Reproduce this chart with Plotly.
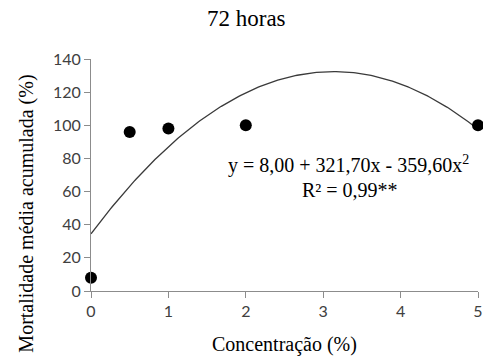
import numpy as np
import plotly.graph_objects as go

# Data
concentracao = [0, 0.5, 1, 2, 5]
mortalidade = [8, 96, 98, 100, 100]
x_ticks = [0, 1, 2, 3, 4, 5]
y_ticks = [0, 20, 40, 60, 80, 100, 120, 140]
titulo = "72 horas"
eq_text = "y = 8,00 + 321,70x - 359,60x<sup>2</sup>"
r2_text = "R² = 0,99**"

# quadratic trendline fitted to the observed points
coef = np.polyfit(concentracao, mortalidade, 2)
xs = np.linspace(0, 5, 200)
ys = np.polyval(coef, xs)

serif = "Liberation Serif, Times New Roman, serif"
sans = "Lato, Liberation Sans, sans-serif"

fig = go.Figure()
fig.add_trace(go.Scatter(x=xs, y=ys, mode="lines",
                         line=dict(color="#3a3a3a", width=1.3),
                         hoverinfo="skip", showlegend=False, cliponaxis=False))
fig.add_trace(go.Scatter(x=concentracao, y=mortalidade, mode="markers",
                         marker=dict(color="black", size=12),
                         showlegend=False, cliponaxis=False))

axis_common = dict(showgrid=False, zeroline=False, showline=True,
                   linecolor="#8c8c8c", linewidth=1, ticks="outside",
                   tickcolor="#8c8c8c", ticklen=6, ticklabeloverflow="allow",
                   tickfont=dict(family=sans, size=16, color="#404040"))

fig.update_xaxes(range=[0, 5], tickvals=x_ticks, ticktext=[str(t) for t in x_ticks],
                 **axis_common)
fig.update_yaxes(range=[0, 140], tickvals=y_ticks, ticktext=[str(t) for t in y_ticks],
                 **axis_common)

ctr = dict(xanchor="center", yanchor="middle", showarrow=False)
annots = [
    dict(text=titulo, x=0.401, y=1.175, xref="paper", yref="paper",
         font=dict(family=serif, size=23, color="black"), **ctr),
    dict(text="Concentração (%)", x=0.499, y=-0.23, xref="paper", yref="paper",
         font=dict(family=serif, size=20, color="black"), **ctr),
    dict(text="Mortalidade média acumulada (%)", x=-0.167, y=0.335,
         xref="paper", yref="paper", textangle=-90,
         font=dict(family=serif, size=20, color="black"), **ctr),
    dict(text=eq_text, x=3.33, y=76.6, xref="x", yref="y",
         font=dict(family=serif, size=20, color="black"), **ctr),
    dict(text=r2_text, x=3.35, y=61, xref="x", yref="y",
         font=dict(family=serif, size=20, color="black"), **ctr),
]

fig.update_layout(width=483, height=358,
                  margin=dict(l=91, r=0, t=59, b=67),
                  paper_bgcolor="white", plot_bgcolor="white",
                  annotations=annots)

fig.write_html("out.html", config={"displayModeBar": False},
               post_script="document.body.style.margin='0';document.body.style.overflow='hidden';")
